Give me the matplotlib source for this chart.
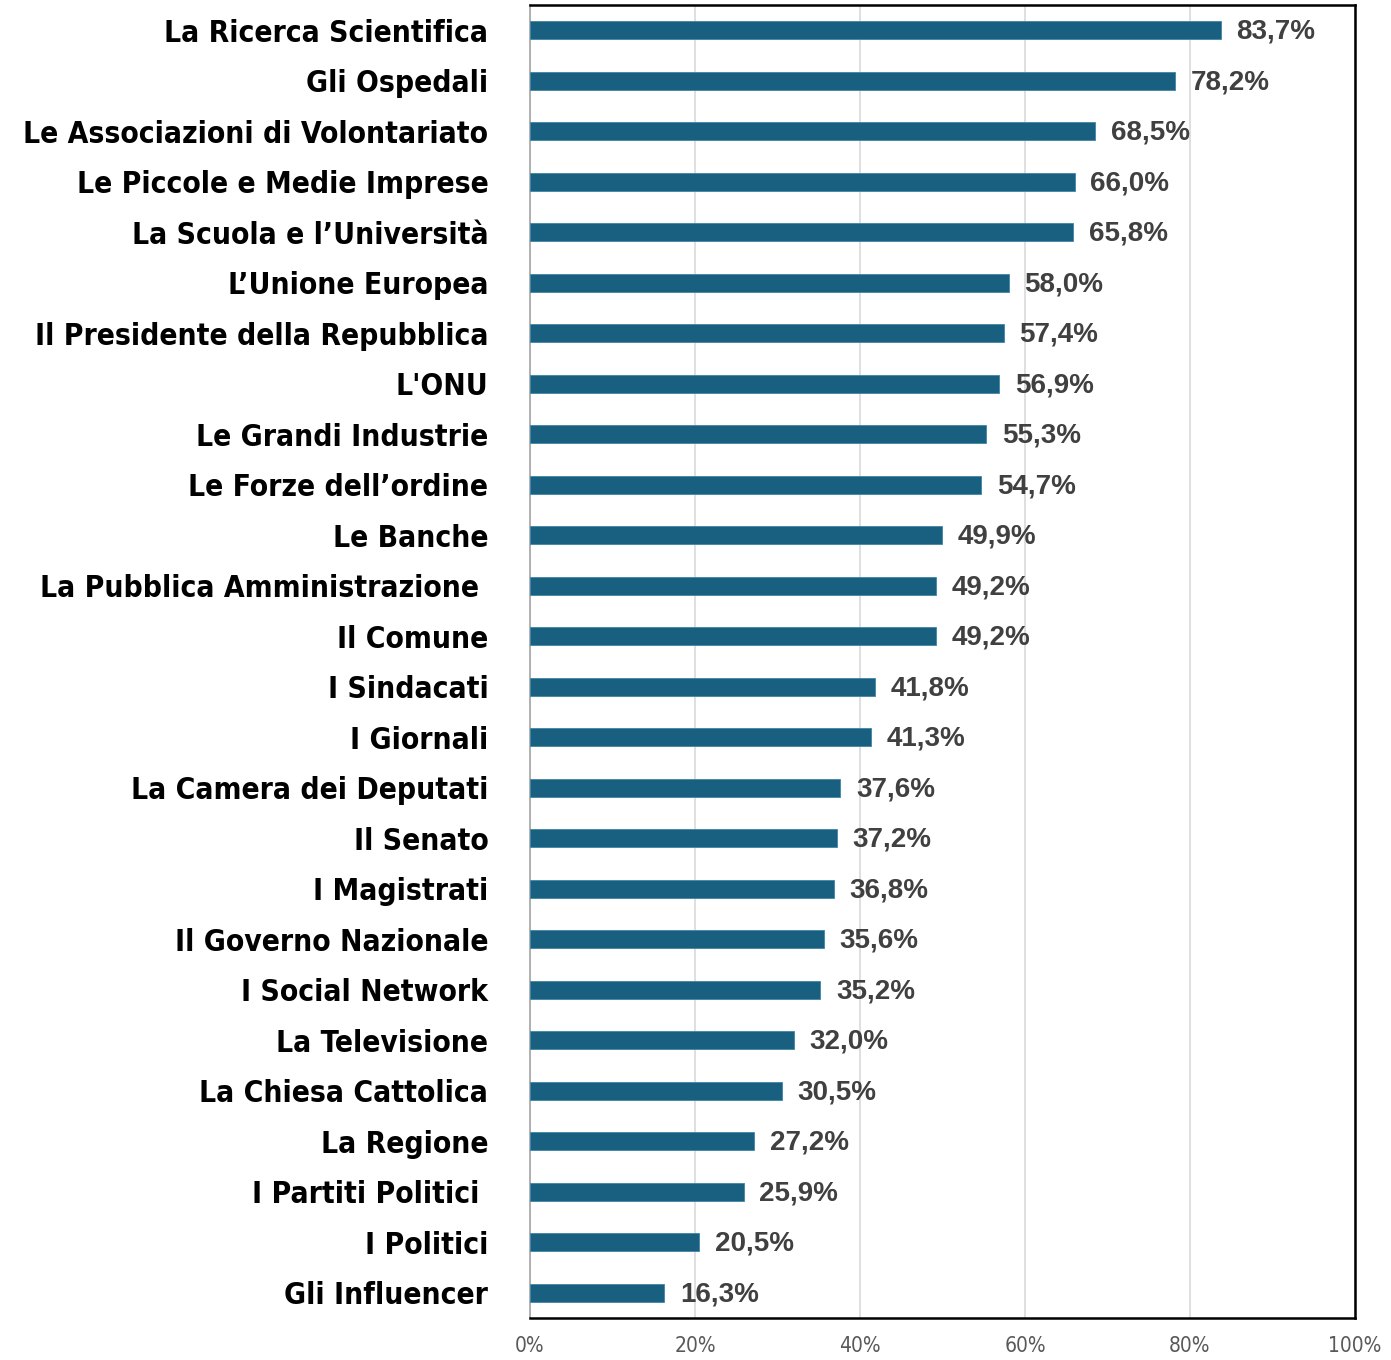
import matplotlib
matplotlib.use("Agg")
import matplotlib.pyplot as plt
from matplotlib.ticker import FuncFormatter

categories = [
    "La Ricerca Scientifica", "Gli Ospedali", "Le Associazioni di Volontariato",
    "Le Piccole e Medie Imprese", "La Scuola e l\u2019Universit\u00e0", "L\u2019Unione Europea",
    "Il Presidente della Repubblica", "L'ONU", "Le Grandi Industrie",
    "Le Forze dell\u2019ordine", "Le Banche", "La Pubblica Amministrazione ",
    "Il Comune", "I Sindacati", "I Giornali", "La Camera dei Deputati",
    "Il Senato", "I Magistrati", "Il Governo Nazionale", "I Social Network",
    "La Televisione", "La Chiesa Cattolica", "La Regione", "I Partiti Politici ",
    "I Politici", "Gli Influencer",
]
values = [83.7, 78.2, 68.5, 66.0, 65.8, 58.0, 57.4, 56.9, 55.3, 54.7, 49.9, 49.2,
          49.2, 41.8, 41.3, 37.6, 37.2, 36.8, 35.6, 35.2, 32.0, 30.5, 27.2, 25.9,
          20.5, 16.3]
ticks = [0, 20, 40, 60, 80, 100]

W, H, DPI = 1391, 1360, 100
fig = plt.figure(figsize=(W / DPI, H / DPI), dpi=DPI)
ax = fig.add_axes([530 / W, 1 - 1318 / H, 825 / W, 1313 / H])

ypos = list(range(len(categories)))
ax.barh(ypos, values, height=0.36, color="#185f80", edgecolor="#3f86a8",
        linewidth=0.6, zorder=3)
ax.set_ylim(len(categories) - 0.5, -0.5)
ax.set_xlim(0, 100)

for y, v in zip(ypos, values):
    ax.text(v + 1.9, y + 0.03, f"{v:.1f}%".replace(".", ","), va="center", ha="left",
            fontsize=20, fontweight="bold", color="#404040",
            family="Liberation Sans", zorder=4)

ax.set_yticks(ypos)
ax.set_yticklabels(categories, fontsize=21.5, fontweight="bold",
                   family="DejaVu Sans", fontstretch="condensed", color="black")
ax.tick_params(axis="y", length=0, pad=30)
for lab in ax.get_yticklabels():
    lab.set_y(lab.get_position()[1])

ax.set_xticks(ticks)
ax.xaxis.set_major_formatter(FuncFormatter(lambda x, p: f"{int(x)}%"))
ax.tick_params(axis="x", length=0, pad=13, labelsize=15, labelcolor="#595959")
for lab in ax.get_xticklabels():
    lab.set_family("DejaVu Sans")
    lab.set_fontstretch("condensed")

ax.grid(axis="x", color="#d9d9d9", linewidth=1.2, zorder=0)
ax.set_axisbelow(True)
for side in ["top", "right", "bottom"]:
    ax.spines[side].set_color("black")
    ax.spines[side].set_linewidth(1.8)
ax.spines["left"].set_color("#a6a6a6")
ax.spines["left"].set_linewidth(1.2)

fig.savefig("out.png", dpi=DPI)
